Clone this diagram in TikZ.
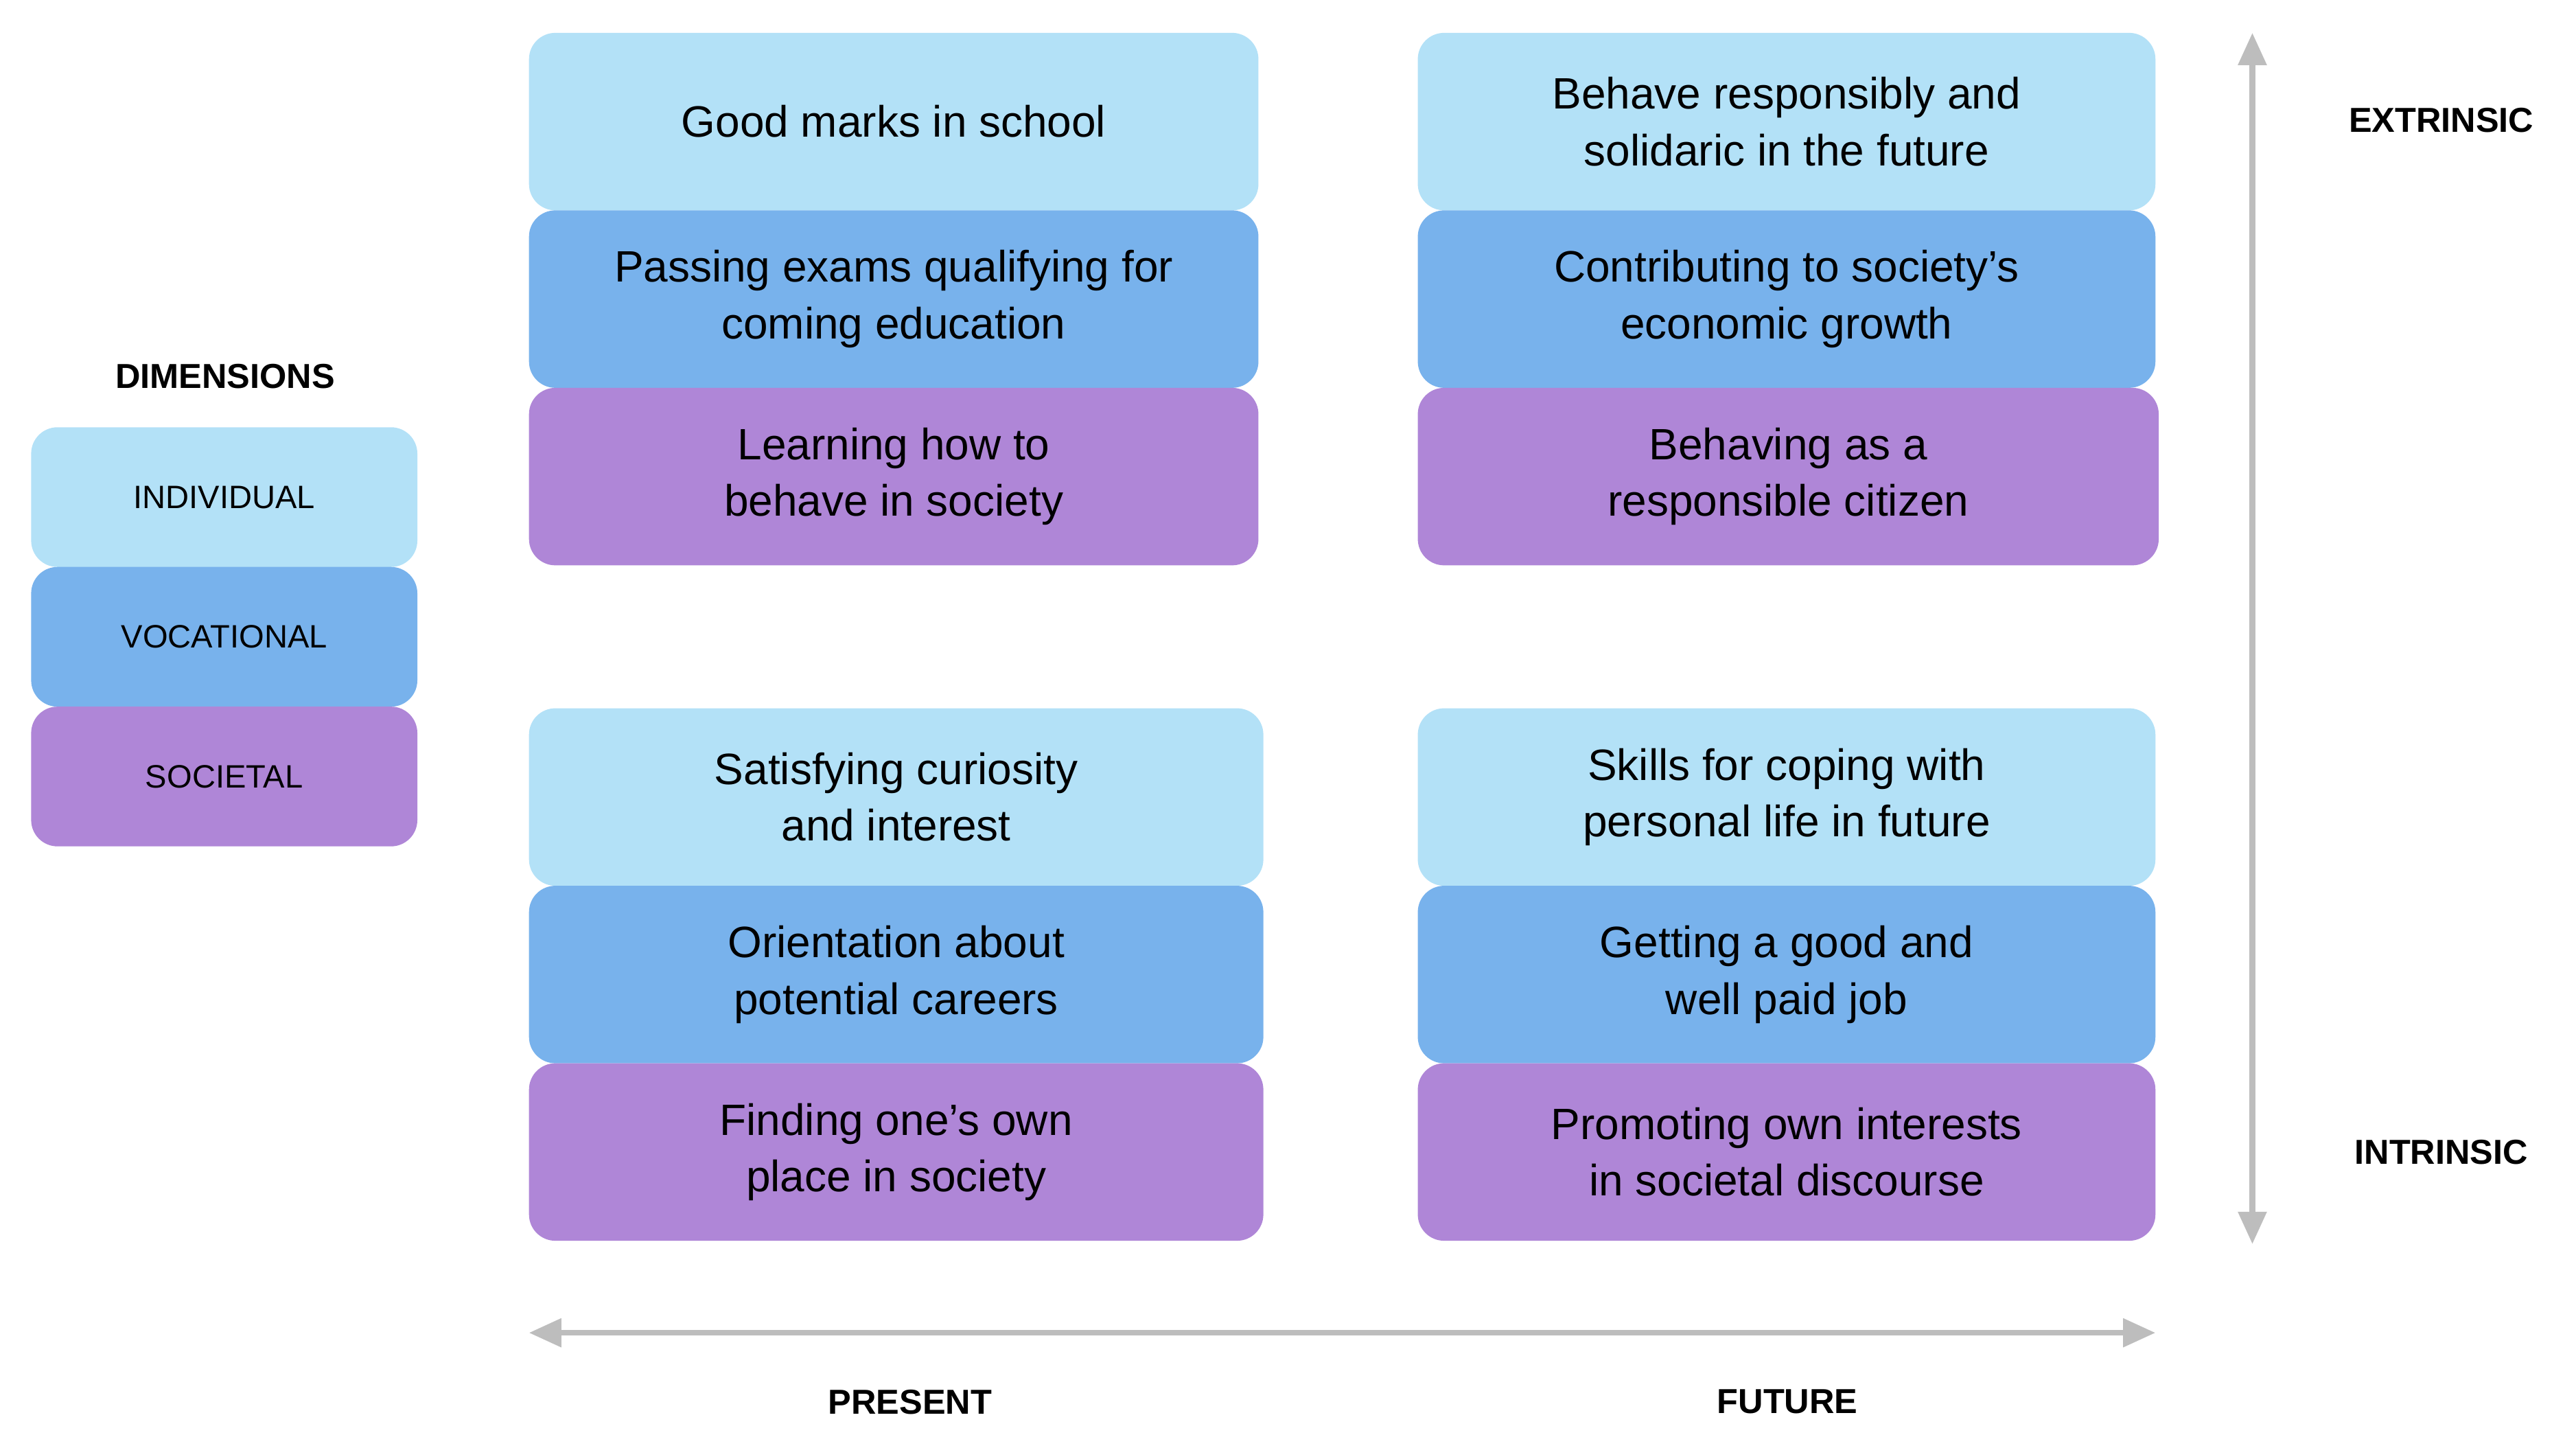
\documentclass[tikz,border=0pt]{standalone}
\usepackage{fontspec}
\setmainfont{Liberation Sans}
\usetikzlibrary{arrows.meta}
\definecolor{cind}{HTML}{B3E1F7}
\definecolor{cvoc}{HTML}{78B2EC}
\definecolor{csoc}{HTML}{AF86D7}
\definecolor{carr}{HTML}{BDBDBD}
\tikzset{
 px/.style={x=0.025cm,y=-0.025cm},
 cell/.style={rounded corners=0.4cm,inner sep=0pt,align=center,font=\fontsize{19}{24.5}\selectfont,text=black},
 leg/.style={rounded corners=0.4cm,inner sep=0pt,font=\fontsize{14}{17}\selectfont,minimum width=5.875cm,minimum height=2.125cm},
 head/.style={font=\bfseries\fontsize{15}{18}\selectfont},
 axis/.style={carr,line width=2.4pt,{Triangle[length=14pt,width=12pt]}-{Triangle[length=14pt,width=12pt]}}
}
\newcommand{\cellbox}[6]{% name, x1,x2,y1,y2,color,text
 \node[cell,fill=#6,minimum width={(#3-#2)*0.025cm},minimum height={(#5-#4)*0.025cm}] (#1) at ({(#2+#3)/2},{(#4+#5)/2}) {\cellt};}
\begin{document}
\begin{tikzpicture}[px]
\useasboundingbox (0,0) rectangle (1568,873);
\def\row#1#2#3#4#5#6#7{%
 \node[cell,fill=#6,minimum width={(#3-#2)*0.025cm},minimum height={(#5-#4)*0.025cm}] (#1) at ({(#2+#3)/2},{(#4+#5)/2}) {#7};}
% top-left
\row{a1}{322}{766}{20}{128}{cind}{Good marks in school}
\row{a2}{322}{766}{128}{236}{cvoc}{Passing exams qualifying for\\coming education}
\row{a3}{322}{766}{236}{344}{csoc}{Learning how to\\behave in society}
% top-right
\row{b1}{863}{1312}{20}{128}{cind}{Behave responsibly and\\solidaric in the future}
\row{b2}{863}{1312}{128}{236}{cvoc}{Contributing to society’s\\economic growth}
\row{b3}{863}{1314}{236}{344}{csoc}{Behaving as a\\responsible citizen}
% bottom-left
\row{c1}{322}{769}{431}{539}{cind}{Satisfying curiosity\\and interest}
\row{c2}{322}{769}{539}{647}{cvoc}{Orientation about\\potential careers}
\row{c3}{322}{769}{647}{755}{csoc}{Finding one’s own\\place in society}
% bottom-right
\row{d1}{863}{1312}{431}{539}{cind}{Skills for coping with\\personal life in future}
\row{d2}{863}{1312}{539}{647}{cvoc}{Getting a good and\\well paid job}
\row{d3}{863}{1312}{647}{755}{csoc}{Promoting own interests\\in societal discourse}
% legend
\node[head] (dim) at (137,229) {DIMENSIONS};
\node[leg,fill=cind] (l1) at (136.5,302.5) {INDIVIDUAL};
\node[leg,fill=cvoc] (l2) at (136.5,387.5) {VOCATIONAL};
\node[leg,fill=csoc] (l3) at (136.5,472.5) {SOCIETAL};
% axes
\coordinate (vt) at (1371,20); \coordinate (vb) at (1371,757);
\coordinate (hl) at (322,811); \coordinate (hr) at (1312,811);
\draw[axis] (vt) -- (vb);
\draw[axis] (hl) -- (hr);
\node[head] (ext) at (1486,73) {EXTRINSIC};
\node[head] (int) at (1486,701) {INTRINSIC};
\node[head] (pre) at (554,853) {PRESENT};
\node[head] (fut) at (1088,853) {FUTURE};
\end{tikzpicture}
\end{document}
